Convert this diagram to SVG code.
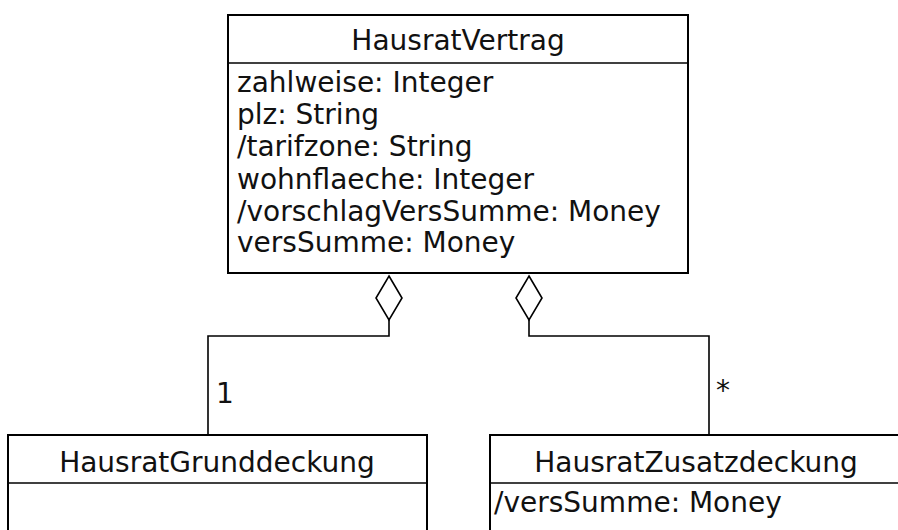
<svg xmlns="http://www.w3.org/2000/svg" width="898" height="530" viewBox="0 0 898 530">
<style>
.box{fill:#fff;stroke:#000;stroke-width:2}
.ln{fill:none;stroke:#000;stroke-width:1.6}
.dia{fill:#fff;stroke:#000;stroke-width:1.6}
text{font-family:"DejaVu Sans",sans-serif;font-size:28px;fill:#111}
.t{text-anchor:middle}
</style>
<rect width="898" height="530" fill="#fff"/>
<g id="connectors">
<polyline class="ln" points="389,320 389,336 208,336 208,435"/>
<polygon class="dia" points="389,276 402,298 389,320 376,298"/>
<polyline class="ln" points="529,320 529,336 709,336 709,435"/>
<polygon class="dia" points="529,276 542,298 529,320 516,298"/>
<text x="216" y="403" font-size="26">1</text>
<text x="716" y="400" font-size="24">*</text>
</g>
<g id="HausratVertrag">
<rect class="box" x="228" y="15" width="460" height="258"/>
<line class="ln" x1="228" y1="63" x2="688" y2="63" stroke-width="2"/>
<text class="t" x="458" y="50">HausratVertrag</text>
<text x="237" y="92">zahlweise: Integer</text>
<text x="237" y="124">plz: String</text>
<text x="237" y="156">/tarifzone: String</text>
<text x="237" y="189">wohnflaeche: Integer</text>
<text x="237" y="221">/vorschlagVersSumme: Money</text>
<text x="237" y="252">versSumme: Money</text>
</g>
<g id="HausratGrunddeckung">
<rect class="box" x="8" y="435" width="419" height="110"/>
<line class="ln" x1="8" y1="483" x2="427" y2="483" stroke-width="2"/>
<text class="t" x="217" y="472">HausratGrunddeckung</text>
</g>
<g id="HausratZusatzdeckung">
<rect class="box" x="490" y="435" width="413" height="110"/>
<line class="ln" x1="490" y1="483" x2="903" y2="483" stroke-width="2"/>
<text class="t" x="696" y="472">HausratZusatzdeckung</text>
<text x="494" y="512">/versSumme: Money</text>
</g>
</svg>
